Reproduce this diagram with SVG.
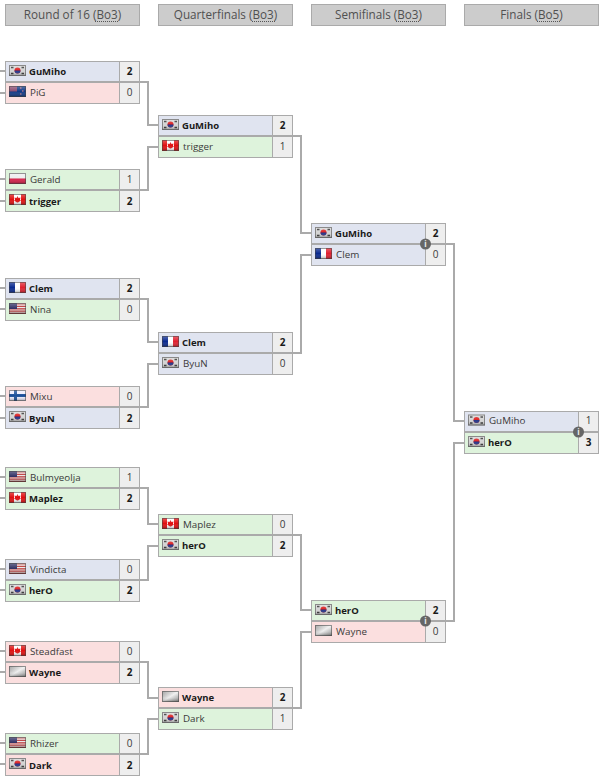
<svg xmlns="http://www.w3.org/2000/svg" width="602" height="780" viewBox="0 0 602 780">
<style>
text{font-family:"Open Sans","Noto Sans","DejaVu Sans",sans-serif;font-size:9.8px;fill:#3a3a3a}
.w{font-weight:700;fill:#1a1a1a;font-size:9.500px}
.s{text-anchor:middle;font-size:10px}
.h{font-size:11.700px;fill:#505050;text-anchor:middle}
.hb{fill:#ccc;stroke:#aaa;stroke-width:1}
.b{fill:#e0e4f0}.r{fill:#fbdfdf}.g{fill:#def3dc}
.c{fill:none;stroke:#aaa;stroke-width:2}
.d{stroke:#555;stroke-width:1;stroke-dasharray:1 1}
.i{fill:#666}.it{fill:#eee;font-size:8px;font-weight:700;text-anchor:middle}
</style>
<defs>
<linearGradient id="gl" x1="0" y1="0" x2="0" y2="1"><stop offset="0" stop-color="#fff" stop-opacity=".3"/><stop offset=".5" stop-color="#fff" stop-opacity="0"/><stop offset="1" stop-color="#000" stop-opacity=".35"/></linearGradient>
<linearGradient id="wa" x1="0" y1="0" x2="1" y2="1"><stop offset="0" stop-color="#888"/><stop offset=".5" stop-color="#eee"/><stop offset="1" stop-color="#888"/></linearGradient>
<g id="o"><rect width="17" height="11" fill="url(#gl)"/><rect x=".5" y=".5" width="16" height="10" fill="none" stroke="#444" stroke-opacity=".55"/></g>
<g id="kr"><rect width="17" height="11" fill="#d4d4d4"/><circle cx="8.500" cy="5.500" r="3" fill="#d22"/><path d="M5.500 5.500a3 3 0 0 0 6 0z" fill="#238"/><path d="M2 2.500h2.500M2 8.500h2.500M12.500 2.500h2.500M12.500 8.500h2.500" stroke="#333" stroke-width="1.600"/><use href="#o"/></g>
<g id="ca"><rect width="17" height="11" fill="#fff"/><rect width="5" height="11" fill="#e01010"/><rect x="12" width="5" height="11" fill="#e01010"/><path d="M8.500 2L9.500 4L11.500 3.500L11 6L12 6.500L9 8.500L8 8.500L5 6.500L6 6L5.500 3.500L7.500 4Z" fill="#e01010"/><use href="#o"/></g>
<g id="us"><rect width="17" height="11" fill="#e8e8e8"/><path d="M0 1h17M0 3.400h17M0 5.800h17M0 8.200h17M0 10.400h17" stroke="#b33" stroke-width="1.200"/><rect width="8" height="6" fill="#336"/><use href="#o"/></g>
<g id="fr"><rect width="6" height="11" fill="#0a2a90"/><rect x="6" width="5" height="11" fill="#fff"/><rect x="11" width="6" height="11" fill="#e02030"/><use href="#o"/></g>
<g id="pl"><rect width="17" height="5.500" fill="#eee"/><rect y="5.500" width="17" height="5.500" fill="#d8204a"/><use href="#o"/></g>
<g id="fi"><rect width="17" height="11" fill="#eef"/><rect x="5" width="3" height="11" fill="#1a4f9a"/><rect y="4" width="17" height="3" fill="#1a4f9a"/><use href="#o"/></g>
<g id="nz"><rect width="17" height="11" fill="#123a86"/><rect width="8" height="5.500" fill="#8a4a70"/><path d="M11 2h1.500M13 5h1.500M11 8h1.500" stroke="#e88" stroke-width="1.200"/><use href="#o"/></g>
<g id="un"><rect width="17" height="11" fill="url(#wa)"/><use href="#o"/></g>
<g id="f"><rect x="114" width="21" height="43" fill="#eee"/><rect x=".5" y=".5" width="134" height="42" fill="none" stroke="#aaa"/><path d="M114.500 0v43" stroke="#aaa"/><path d="M0 21h135" stroke="#aaa" stroke-width="2"/></g>
<g id="inf"><circle r="5.500" class="i"/><text class="it" y="3">i</text></g>
</defs>

<g id="headers">
<g id="h1"><rect class="hb" x="5.500" y="4.500" width="134" height="21"/><text class="h" x="72.500" y="19">Round of 16 (Bo3)</text><path class="d" d="M95 21.500h23"/></g>
<g id="h2"><rect class="hb" x="158.500" y="4.500" width="134" height="21"/><text class="h" x="225.500" y="19">Quarterfinals (Bo3)</text><path class="d" d="M252 21.500h23"/></g>
<g id="h3"><rect class="hb" x="311.500" y="4.500" width="134" height="21"/><text class="h" x="378.500" y="19">Semifinals (Bo3)</text><path class="d" d="M396 21.500h23"/></g>
<g id="h4"><rect class="hb" x="464.500" y="4.500" width="134" height="21"/><text class="h" x="531.500" y="19">Finals (Bo5)</text><path class="d" d="M537 21.500h23"/></g>
</g>

<g id="connectors">
<path class="c" d="M0 71h5M0 93h5M0 179h5M0 201h5M0 288h5M0 309h5M0 396h5M0 418h5M0 477h5M0 498h5M0 569h5M0 590h5M0 651h5M0 672h5M0 743h5M0 764h5"/>
<path class="c" d="M139 82h9v43h10M139 190h9v-43h10"/>
<path class="c" d="M139 299h9v43h10M139 407h9v-43h10"/>
<path class="c" d="M139 488h9v36h10M139 580h9v-34h10"/>
<path class="c" d="M139 662h9v36h10M139 754h9v-35h10"/>
<path class="c" d="M292 136h9v97h10M292 353h9v-98h10"/>
<path class="c" d="M292 535h9v75h10M292 708h9v-76h10"/>
<path class="c" d="M445 244h9v177h10M445 621h9v-178h10"/>
</g>

<g id="m1" transform="translate(5,61)"><rect class="b" width="114" height="21"/><rect class="r" y="21" width="114" height="22"/><use href="#f"/><use href="#kr" x="4" y="4"/><use href="#nz" x="4" y="25"/><text class="w" x="24" y="14">GuMiho</text><text x="25" y="35">PiG</text><text class="s w" x="124.500" y="14">2</text><text class="s" x="124.500" y="35">0</text></g>
<g id="m2" transform="translate(5,169)"><rect class="g" width="114" height="21"/><rect class="g" y="21" width="114" height="22"/><use href="#f"/><use href="#pl" x="4" y="4"/><use href="#ca" x="4" y="25"/><text x="25" y="14">Gerald</text><text class="w" x="24" y="36">trigger</text><text class="s" x="124.500" y="14">1</text><text class="s w" x="124.500" y="36">2</text></g>
<g id="m3" transform="translate(5,278)"><rect class="b" width="114" height="21"/><rect class="g" y="21" width="114" height="22"/><use href="#f"/><use href="#fr" x="4" y="4"/><use href="#us" x="4" y="25"/><text class="w" x="24" y="14">Clem</text><text x="25" y="35">Nina</text><text class="s w" x="124.500" y="14">2</text><text class="s" x="124.500" y="35">0</text></g>
<g id="m4" transform="translate(5,386)"><rect class="r" width="114" height="21"/><rect class="b" y="21" width="114" height="22"/><use href="#f"/><use href="#fi" x="4" y="4"/><use href="#kr" x="4" y="25"/><text x="25" y="14">Mixu</text><text class="w" x="24" y="36">ByuN</text><text class="s" x="124.500" y="14">0</text><text class="s w" x="124.500" y="36">2</text></g>
<g id="m5" transform="translate(5,467)"><rect class="g" width="114" height="21"/><rect class="g" y="21" width="114" height="22"/><use href="#f"/><use href="#us" x="4" y="4"/><use href="#ca" x="4" y="25"/><text x="25" y="14">Bulmyeolja</text><text class="w" x="24" y="35">Maplez</text><text class="s" x="124.500" y="14">1</text><text class="s w" x="124.500" y="35">2</text></g>
<g id="m6" transform="translate(5,559)"><rect class="b" width="114" height="21"/><rect class="g" y="21" width="114" height="22"/><use href="#f"/><use href="#us" x="4" y="4"/><use href="#kr" x="4" y="25"/><text x="25" y="14">Vindicta</text><text class="w" x="24" y="35">herO</text><text class="s" x="124.500" y="14">0</text><text class="s w" x="124.500" y="35">2</text></g>
<g id="m7" transform="translate(5,641)"><rect class="r" width="114" height="21"/><rect class="r" y="21" width="114" height="22"/><use href="#f"/><use href="#ca" x="4" y="4"/><use href="#un" x="4" y="25"/><text x="25" y="14">Steadfast</text><text class="w" x="24" y="35">Wayne</text><text class="s" x="124.500" y="14">0</text><text class="s w" x="124.500" y="35">2</text></g>
<g id="m8" transform="translate(5,733)"><rect class="g" width="114" height="21"/><rect class="r" y="21" width="114" height="22"/><use href="#f"/><use href="#us" x="4" y="4"/><use href="#kr" x="4" y="25"/><text x="25" y="14">Rhizer</text><text class="w" x="24" y="36">Dark</text><text class="s" x="124.500" y="14">0</text><text class="s w" x="124.500" y="36">2</text></g>

<g id="q1" transform="translate(158,115)"><rect class="b" width="114" height="21"/><rect class="g" y="21" width="114" height="22"/><use href="#f"/><use href="#kr" x="4" y="4"/><use href="#ca" x="4" y="25"/><text class="w" x="24" y="14">GuMiho</text><text x="25" y="35">trigger</text><text class="s w" x="124.500" y="14">2</text><text class="s" x="124.500" y="35">1</text></g>
<g id="q2" transform="translate(158,332)"><rect class="b" width="114" height="21"/><rect class="b" y="21" width="114" height="22"/><use href="#f"/><use href="#fr" x="4" y="4"/><use href="#kr" x="4" y="25"/><text class="w" x="24" y="14">Clem</text><text x="25" y="35">ByuN</text><text class="s w" x="124.500" y="14">2</text><text class="s" x="124.500" y="35">0</text></g>
<g id="q3" transform="translate(158,514)"><rect class="g" width="114" height="21"/><rect class="g" y="21" width="114" height="22"/><use href="#f"/><use href="#ca" x="4" y="4"/><use href="#kr" x="4" y="25"/><text x="25" y="14">Maplez</text><text class="w" x="24" y="35">herO</text><text class="s" x="124.500" y="14">0</text><text class="s w" x="124.500" y="35">2</text></g>
<g id="q4" transform="translate(158,687)"><rect class="r" width="114" height="21"/><rect class="g" y="21" width="114" height="22"/><use href="#f"/><use href="#un" x="4" y="4"/><use href="#kr" x="4" y="25"/><text class="w" x="24" y="14">Wayne</text><text x="25" y="35">Dark</text><text class="s w" x="124.500" y="14">2</text><text class="s" x="124.500" y="35">1</text></g>

<g id="s1" transform="translate(311,223)"><rect class="b" width="114" height="21"/><rect class="b" y="21" width="114" height="22"/><use href="#f"/><use href="#kr" x="4" y="4"/><use href="#fr" x="4" y="25"/><text class="w" x="24" y="14">GuMiho</text><text x="25" y="35">Clem</text><text class="s w" x="124.500" y="14">2</text><text class="s" x="124.500" y="35">0</text><use href="#inf" x="114.500" y="21"/></g>
<g id="s2" transform="translate(311,600)"><rect class="g" width="114" height="21"/><rect class="r" y="21" width="114" height="22"/><use href="#f"/><use href="#kr" x="4" y="4"/><use href="#un" x="4" y="25"/><text class="w" x="24" y="14">herO</text><text x="25" y="35">Wayne</text><text class="s w" x="124.500" y="14">2</text><text class="s" x="124.500" y="35">0</text><use href="#inf" x="114.500" y="21"/></g>
<g id="fin" transform="translate(464,411)"><rect class="b" width="114" height="21"/><rect class="g" y="21" width="114" height="22"/><use href="#f"/><use href="#kr" x="4" y="3.500"/><use href="#kr" x="4" y="25"/><text x="25" y="13">GuMiho</text><text class="w" x="24" y="35">herO</text><text class="s" x="124.500" y="13">1</text><text class="s w" x="124.500" y="35">3</text><use href="#inf" x="114.500" y="21"/></g>
</svg>
